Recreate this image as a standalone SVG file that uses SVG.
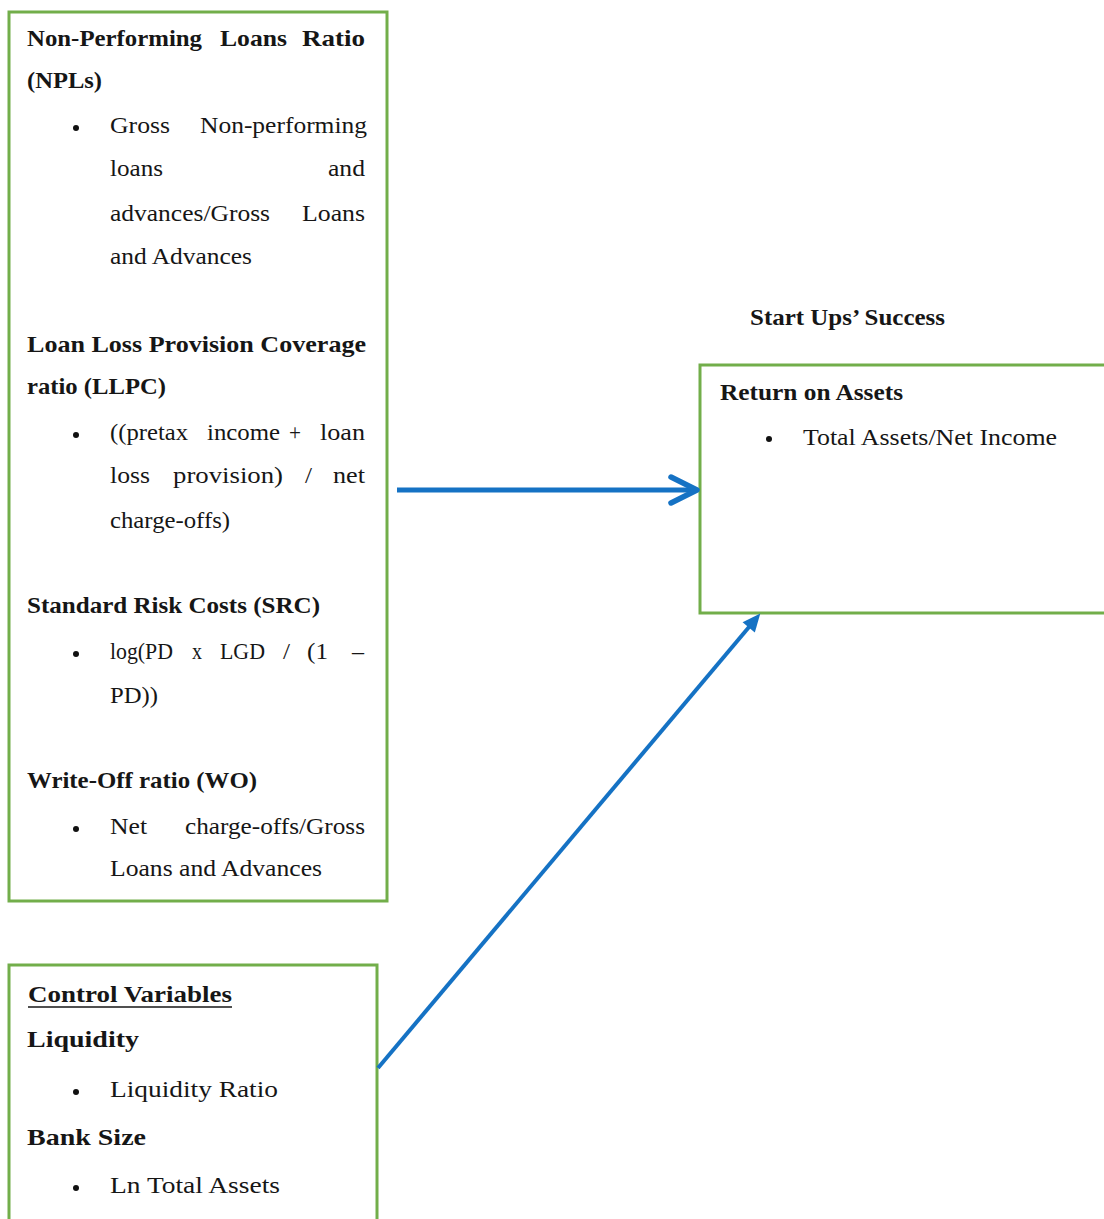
<svg xmlns="http://www.w3.org/2000/svg" width="1104" height="1219" viewBox="0 0 1104 1219">
<style>
  .box { fill: #ffffff; stroke: #72ae4a; stroke-width: 3; }
  .t { font-family: "Liberation Serif", "Times New Roman", serif; font-size: 24px; fill: #161616; }
  .b { font-weight: bold; }
  .bul { fill: #111111; }
  .conn { stroke: #1572c4; fill: none; }
</style>
<defs>
  <marker id="chev" markerUnits="userSpaceOnUse" viewBox="-32 -17 36 34" refX="0" refY="0" markerWidth="36" markerHeight="34" orient="auto" overflow="visible">
    <path d="M -26,-13 L 0,0 L -26,13" fill="none" stroke="#1572c4" stroke-width="5.5" stroke-linecap="round" stroke-linejoin="round"/>
  </marker>
  <marker id="tri" markerUnits="userSpaceOnUse" viewBox="-10 -9 20 18" refX="0" refY="0" markerWidth="20" markerHeight="18" orient="auto" overflow="visible">
    <path d="M -9,-8 L 9,0 L -9,8 Z" fill="#1572c4"/>
  </marker>
</defs>
<rect width="1104" height="1219" fill="#ffffff"/>

<g id="node-independent">
  <rect class="box" x="9" y="12" width="378" height="889"/>
  <text class="t b" y="46"><tspan x="27" textLength="175" lengthAdjust="spacingAndGlyphs">Non-Performing</tspan><tspan x="220" textLength="67" lengthAdjust="spacingAndGlyphs">Loans</tspan><tspan x="302" textLength="63" lengthAdjust="spacingAndGlyphs">Ratio</tspan></text>
  <text class="t b" x="27" y="88" textLength="75" lengthAdjust="spacingAndGlyphs">(NPLs)</text>
  <circle class="bul" cx="76" cy="128" r="3"/>
  <text class="t" y="133"><tspan x="110" textLength="60" lengthAdjust="spacingAndGlyphs">Gross</tspan><tspan x="200" textLength="167" lengthAdjust="spacingAndGlyphs">Non-performing</tspan></text>
  <text class="t" y="176"><tspan x="110" textLength="53" lengthAdjust="spacingAndGlyphs">loans</tspan><tspan x="328" textLength="37" lengthAdjust="spacingAndGlyphs">and</tspan></text>
  <text class="t" y="221"><tspan x="110" textLength="160" lengthAdjust="spacingAndGlyphs">advances/Gross</tspan><tspan x="302" textLength="63" lengthAdjust="spacingAndGlyphs">Loans</tspan></text>
  <text class="t" x="110" y="264" textLength="142" lengthAdjust="spacingAndGlyphs">and Advances</text>

  <text class="t b" x="27" y="352" textLength="339" lengthAdjust="spacingAndGlyphs">Loan Loss Provision Coverage</text>
  <text class="t b" x="27" y="394" textLength="139" lengthAdjust="spacingAndGlyphs">ratio (LLPC)</text>
  <circle class="bul" cx="76" cy="435" r="3"/>
  <text class="t" y="440"><tspan x="110" textLength="78" lengthAdjust="spacingAndGlyphs">((pretax</tspan><tspan x="207" textLength="73" lengthAdjust="spacingAndGlyphs">income</tspan><tspan x="289" textLength="12" lengthAdjust="spacingAndGlyphs">+</tspan><tspan x="320" textLength="45" lengthAdjust="spacingAndGlyphs">loan</tspan></text>
  <text class="t" y="483"><tspan x="110" textLength="40" lengthAdjust="spacingAndGlyphs">loss</tspan><tspan x="173" textLength="110" lengthAdjust="spacingAndGlyphs">provision)</tspan><tspan x="305" textLength="7" lengthAdjust="spacingAndGlyphs">/</tspan><tspan x="333" textLength="32" lengthAdjust="spacingAndGlyphs">net</tspan></text>
  <text class="t" x="110" y="528" textLength="120" lengthAdjust="spacingAndGlyphs">charge-offs)</text>

  <text class="t b" x="27" y="613" textLength="293" lengthAdjust="spacingAndGlyphs">Standard Risk Costs (SRC)</text>
  <circle class="bul" cx="76" cy="654" r="3"/>
  <text class="t" y="659"><tspan x="110" textLength="63" lengthAdjust="spacingAndGlyphs">log(PD</tspan><tspan x="192" textLength="10" lengthAdjust="spacingAndGlyphs">x</tspan><tspan x="220" textLength="45" lengthAdjust="spacingAndGlyphs">LGD</tspan><tspan x="283" textLength="7" lengthAdjust="spacingAndGlyphs">/</tspan><tspan x="307" textLength="21" lengthAdjust="spacingAndGlyphs">(1</tspan><tspan x="352" textLength="12" lengthAdjust="spacingAndGlyphs">–</tspan></text>
  <text class="t" x="110" y="703" textLength="48" lengthAdjust="spacingAndGlyphs">PD))</text>

  <text class="t b" x="27" y="788" textLength="230" lengthAdjust="spacingAndGlyphs">Write-Off ratio (WO)</text>
  <circle class="bul" cx="76" cy="829" r="3"/>
  <text class="t" y="834"><tspan x="110" textLength="37" lengthAdjust="spacingAndGlyphs">Net</tspan><tspan x="185" textLength="180" lengthAdjust="spacingAndGlyphs">charge-offs/Gross</tspan></text>
  <text class="t" x="110" y="876" textLength="212" lengthAdjust="spacingAndGlyphs">Loans and Advances</text>
</g>

<g id="label-dependent">
  <text class="t b" x="750" y="325" textLength="195" lengthAdjust="spacingAndGlyphs">Start Ups’ Success</text>
</g>

<g id="node-dependent">
  <rect class="box" x="700" y="365" width="420" height="248"/>
  <text class="t b" x="720" y="400" textLength="183" lengthAdjust="spacingAndGlyphs">Return on Assets</text>
  <circle class="bul" cx="769" cy="439" r="3"/>
  <text class="t" x="803" y="445" textLength="254" lengthAdjust="spacingAndGlyphs">Total Assets/Net Income</text>
</g>

<g id="node-control">
  <rect class="box" x="9" y="965" width="368" height="300"/>
  <text class="t b" x="28" y="1002" textLength="204" lengthAdjust="spacingAndGlyphs">Control Variables</text>
  <line x1="28" y1="1007" x2="232" y2="1007" stroke="#161616" stroke-width="1.6"/>
  <text class="t b" x="27" y="1047" textLength="112" lengthAdjust="spacingAndGlyphs">Liquidity</text>
  <circle class="bul" cx="76" cy="1092" r="3"/>
  <text class="t" x="110" y="1097" textLength="168" lengthAdjust="spacingAndGlyphs">Liquidity Ratio</text>
  <text class="t b" x="27" y="1145" textLength="119" lengthAdjust="spacingAndGlyphs">Bank Size</text>
  <circle class="bul" cx="76" cy="1188" r="3"/>
  <text class="t" x="110" y="1193" textLength="170" lengthAdjust="spacingAndGlyphs">Ln Total Assets</text>
</g>

<g id="connectors">
  <line class="conn" x1="397" y1="490" x2="697" y2="490" stroke-width="5" marker-end="url(#chev)"/>
  <line class="conn" x1="378" y1="1068" x2="754.5" y2="620.5" stroke-width="4" marker-end="url(#tri)"/>
</g>
</svg>
